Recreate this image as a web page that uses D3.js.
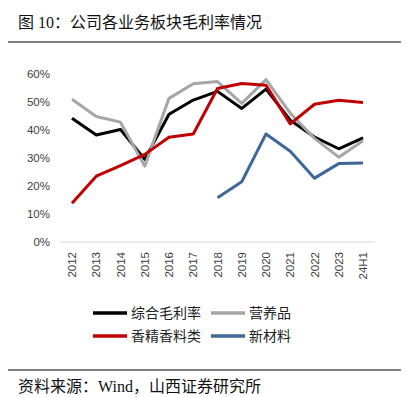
<!DOCTYPE html>
<html>
<head>
<meta charset="utf-8">
<script src="https://cdn.jsdelivr.net/npm/d3@7"></script>
<style>
  body { margin: 0; background: #fff; }
  svg { display: block; }
</style>
</head>
<body>
<div id="chart"></div>
<script>
const years = ["2012","2013","2014","2015","2016","2017","2018","2019","2020","2021","2022","2023","24H1"];
const total = [44.2, 38.2, 40.2, 29.5, 45.6, 50.7, 53.8, 47.7, 54.6, 43.5, 37.5, 33.3, 37.2];
const nutrition = [51.0, 44.8, 42.8, 27.1, 51.3, 56.5, 57.3, 49.5, 58.0, 46.0, 37.0, 30.3, 36.2];
const flavor = [13.8, 23.5, 27.3, 31.3, 37.4, 38.6, 54.8, 56.6, 56.0, 42.2, 49.2, 50.6, 49.8];
const material = [null, null, null, null, null, null, 15.8, 21.5, 38.6, 32.4, 22.8, 28.0, 28.2];
const yTicks = [0, 10, 20, 30, 40, 50, 60];

const series = [
  { name: "综合毛利率", values: total, color: "#000000" },
  { name: "营养品", values: nutrition, color: "#a6a6a6" },
  { name: "香精香料类", values: flavor, color: "#c00000" },
  { name: "新材料", values: material, color: "#3d6898" }
];

const width = 410, height = 398;
const svg = d3.select("#chart").append("svg")
  .attr("width", width).attr("height", height);

const serif = "'Liberation Serif', 'Noto Sans CJK SC', serif";
const sans = "'Liberation Sans', Arial, 'Noto Sans CJK SC', sans-serif";

// title + rules
svg.append("text").attr("x", 18).attr("y", 28)
  .attr("font-family", serif).attr("font-size", 16).attr("fill", "#111")
  .text("图 10：公司各业务板块毛利率情况");
svg.append("line").attr("x1", 8).attr("x2", 401).attr("y1", 42).attr("y2", 42)
  .attr("stroke", "#555").attr("stroke-width", 1.5);
svg.append("line").attr("x1", 8).attr("x2", 401).attr("y1", 370).attr("y2", 370)
  .attr("stroke", "#555").attr("stroke-width", 1.5);
svg.append("text").attr("x", 18).attr("y", 392)
  .attr("font-family", serif).attr("font-size", 16).attr("fill", "#111")
  .text("资料来源：Wind，山西证券研究所");

const x = d3.scalePoint().domain(years).range([72, 363]);
const y = d3.scaleLinear().domain([0, 60]).range([242, 74]);

// y axis
const yAxis = svg.append("g").attr("transform", "translate(60,0)")
  .call(d3.axisLeft(y).tickValues(yTicks).tickFormat(d => d + "%").tickSize(0).tickPadding(10));
yAxis.select(".domain").remove();
yAxis.selectAll("text").attr("font-family", sans).attr("font-size", 11.5).attr("fill", "#404040");

// x baseline
svg.append("line").attr("x1", 60).attr("x2", 375).attr("y1", y(0)).attr("y2", y(0))
  .attr("stroke", "#d9d9d9").attr("stroke-width", 1);

// x labels
svg.append("g").selectAll("text").data(years).join("text")
  .attr("transform", d => `translate(${x(d) + 4},252) rotate(-90)`)
  .attr("text-anchor", "end")
  .attr("font-family", sans).attr("font-size", 11.5).attr("fill", "#404040")
  .text(d => d);

// lines
const line = d3.line()
  .defined(d => d.v !== null)
  .x(d => x(d.year)).y(d => y(d.v));

svg.append("g").selectAll("path").data(series).join("path")
  .attr("d", s => line(s.values.map((v, i) => ({ year: years[i], v }))))
  .attr("fill", "none")
  .attr("stroke", s => s.color)
  .attr("stroke-width", 3)
  .attr("stroke-linejoin", "round");

// legend
const legendPos = [[93, 313], [211, 313], [93, 336], [211, 336]];
const legend = svg.append("g").selectAll("g").data(series).join("g")
  .attr("transform", (d, i) => `translate(${legendPos[i][0]},${legendPos[i][1]})`);
legend.append("line").attr("x1", 0).attr("x2", 34).attr("y1", 0).attr("y2", 0)
  .attr("stroke", d => d.color).attr("stroke-width", 3.5);
legend.append("text").attr("x", 38).attr("y", 5)
  .attr("font-family", "'Noto Sans CJK SC', sans-serif").attr("font-size", 14).attr("fill", "#222")
  .text(d => d.name);
</script>
</body>
</html>
